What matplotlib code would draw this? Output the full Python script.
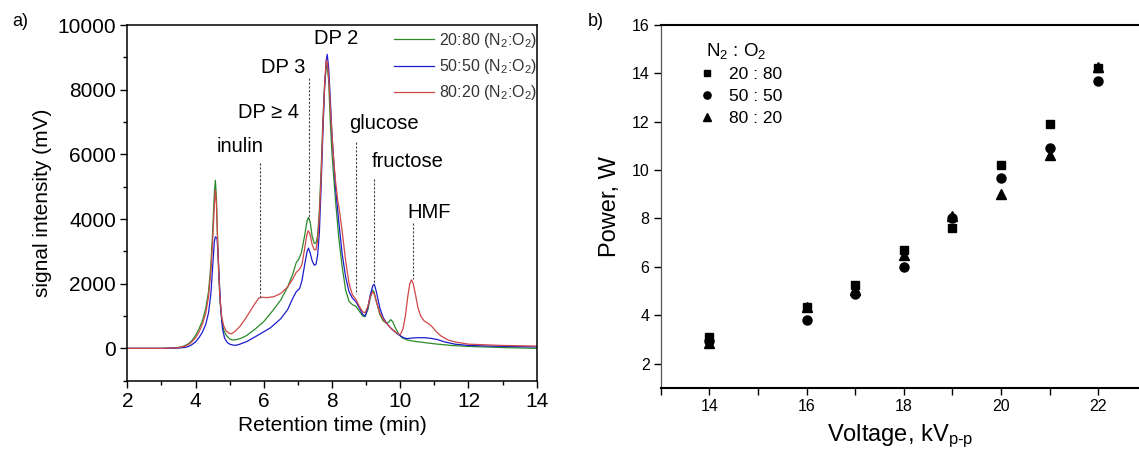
import numpy as np
import matplotlib
matplotlib.use("Agg")
import matplotlib.pyplot as plt
from matplotlib.ticker import MultipleLocator

plt.rcParams['font.family'] = ['Liberation Sans', 'DejaVu Sans']
plt.rcParams['mathtext.fontset'] = 'custom'
plt.rcParams['mathtext.rm'] = 'Liberation Sans'
plt.rcParams['mathtext.it'] = 'Liberation Sans'

# ---------------- Panel a data (chromatograms) ----------------
t_green = [2.0, 3.0, 3.4, 3.6, 3.7, 3.8, 3.9, 4.0, 4.1, 4.2, 4.3, 4.38, 4.45, 4.5, 4.55, 4.58,
           4.61, 4.64, 4.68, 4.72, 4.77, 4.83, 4.9, 5.0, 5.09, 5.2, 5.35, 5.5, 5.75, 6.0, 6.25,
           6.5, 6.7, 6.85, 6.95, 7.02, 7.1, 7.2, 7.27, 7.31, 7.36, 7.42, 7.48, 7.53, 7.58, 7.63,
           7.68, 7.73, 7.78, 7.83, 7.86, 7.9, 7.95, 8.0, 8.1, 8.2, 8.3, 8.4, 8.5, 8.6, 8.7, 8.8,
           8.9, 8.97, 9.05, 9.12, 9.19, 9.23, 9.3, 9.4, 9.5, 9.6, 9.67, 9.72, 9.78, 9.85, 9.95,
           10.05, 10.2, 10.4, 10.7, 11.0, 11.5, 12.0, 13.0, 14.0]
s_green = [0, 0, 10, 50, 90, 150, 250, 400, 600, 850, 1250, 1750, 2600, 3600, 4800, 5200,
           4700, 3600, 2300, 1400, 850, 550, 400, 290, 260, 270, 320, 400, 600, 830, 1150,
           1500, 1900, 2300, 2650, 2750, 2950, 3500, 3950, 4050, 3900, 3450, 3250, 3250, 3500, 4300,
           5500, 7000, 8100, 8700, 8750, 8300, 7000, 6000, 4600, 3400, 2500, 1800, 1450, 1350, 1300, 1150,
           1000, 980, 1200, 1550, 1800, 1750, 1450, 1050, 850, 770, 820, 890, 820, 650, 450,
           330, 260, 220, 180, 140, 90, 60, 25, 0]

t_blue = [2.0, 3.0, 3.5, 3.7, 3.8, 3.9, 4.0, 4.1, 4.2, 4.3, 4.38, 4.45, 4.5, 4.55, 4.58, 4.63,
          4.66, 4.7, 4.74, 4.79, 4.85, 4.93, 5.0, 5.1, 5.19, 5.3, 5.5, 5.7, 5.9, 6.2, 6.5, 6.7,
          6.85, 6.95, 7.05, 7.12, 7.2, 7.27, 7.31, 7.36, 7.42, 7.48, 7.53, 7.58, 7.63, 7.68, 7.73,
          7.78, 7.83, 7.86, 7.9, 7.95, 8.0, 8.1, 8.2, 8.3, 8.4, 8.5, 8.6, 8.7, 8.8, 8.9, 8.97,
          9.05, 9.12, 9.2, 9.24, 9.3, 9.4, 9.5, 9.6, 9.7, 9.8, 9.9, 10.0, 10.1, 10.2, 10.35, 10.5,
          10.7, 10.9, 11.1, 11.3, 11.6, 12.0, 13.0, 14.0]
s_blue = [0, 0, 10, 30, 60, 120, 200, 330, 500, 750, 1100, 1700, 2500, 3300, 3450, 3400,
          2900, 2000, 1200, 600, 320, 180, 130, 100, 95, 130, 210, 330, 450, 640, 920, 1200,
          1550, 1750, 1850, 2100, 2600, 3000, 3100, 2950, 2700, 2570, 2600, 2900, 3600, 5000, 6600,
          8000, 8900, 9090, 8700, 7700, 6600, 5000, 3900, 2900, 2200, 1750, 1550, 1450, 1250, 1050, 1000,
          1250, 1650, 1950, 1980, 1750, 1250, 950, 780, 650, 550, 460, 390, 330, 300, 320, 330,
          330, 310, 270, 200, 130, 90, 60, 45]

t_red = [2.0, 3.0, 3.5, 3.7, 3.8, 3.9, 4.0, 4.1, 4.2, 4.3, 4.38, 4.45, 4.5, 4.55, 4.58, 4.61,
         4.64, 4.68, 4.72, 4.77, 4.83, 4.9, 5.0, 5.05, 5.15, 5.3, 5.45, 5.6, 5.75, 5.85, 5.95,
         6.1, 6.3, 6.5, 6.7, 6.85, 6.95, 7.05, 7.12, 7.2, 7.26, 7.3, 7.35, 7.42, 7.48, 7.53, 7.58,
         7.63, 7.68, 7.73, 7.78, 7.83, 7.87, 7.92, 7.97, 8.03, 8.1, 8.17, 8.22, 8.3, 8.4, 8.5,
         8.6, 8.7, 8.8, 8.9, 8.97, 9.05, 9.12, 9.19, 9.23, 9.3, 9.4, 9.5, 9.6, 9.7, 9.8, 9.9,
         10.0, 10.08, 10.15, 10.22, 10.28, 10.33, 10.38, 10.45, 10.52, 10.6, 10.7, 10.85, 10.95,
         11.05, 11.2, 11.4, 11.6, 12.0, 13.0, 14.0]
s_red = [0, 0, 20, 70, 120, 210, 330, 500, 750, 1100, 1600, 2400, 3300, 4400, 4890, 4500,
         3500, 2300, 1500, 950, 680, 530, 460, 450, 520, 680, 900, 1150, 1400, 1550, 1580,
         1570, 1600, 1700, 1900, 2150, 2350, 2450, 2600, 3100, 3500, 3640, 3550, 3200, 3050, 3050, 3350,
         4100, 5300, 6800, 8100, 8920, 8800, 8100, 7100, 6100, 5200, 4550, 4250, 3600, 2700, 2000,
         1650, 1520, 1300, 1130, 1100, 1300, 1600, 1750, 1700, 1450, 1100, 900, 780, 650, 560, 470,
         420, 600, 1000, 1600, 2000, 2120, 2000, 1650, 1250, 1000, 850, 750, 650,
         520, 380, 260, 200, 130, 90, 70]

series_labels = ['20:80 (N$_2$:O$_2$)', '50:50 (N$_2$:O$_2$)', '80:20 (N$_2$:O$_2$)']

# annotations: label, text x, text y, line x, line y0, line y1
ann_labels = ['DP 2', 'DP 3', 'DP \u2265 4', 'inulin', 'glucose', 'fructose', 'HMF']
ann_text_x = [8.12, 6.56, 6.15, 5.30, 9.51, 10.22, 10.84]
ann_text_y = [9590, 8680, 7290, 6250, 6960, 5790, 4200]
line_x = [5.88, 7.32, 8.71, 9.24, 10.36]
line_top = [5740, 8350, 6390, 5250, 3880]
line_bot = [1590, 4010, 1690, 1950, 2130]

# ---------------- Panel b data (power vs voltage) ----------------
voltage = [14, 16, 17, 18, 19, 20, 21, 22]
power_20_80 = [3.10, 4.34, 5.24, 6.69, 7.59, 10.21, 11.89, 14.21]
power_50_50 = [2.95, 3.79, 4.87, 6.00, 8.00, 9.68, 10.92, 13.68]
power_80_20 = [2.83, 4.34, 5.03, 6.48, 8.10, 9.03, 10.62, 14.28]
ratio_labels = ['20 : 80', '50 : 50', '80 : 20']

# ---------------- Figure ----------------
fig = plt.figure(figsize=(11.39, 4.55), dpi=100)

axa = fig.add_axes([0.1118, 0.1633, 0.3594, 0.7817])
axa.plot(t_green, s_green, color='#2a8a2a', lw=0.9, label=series_labels[0])
axa.plot(t_blue, s_blue, color='#1c1ccc', lw=0.9, label=series_labels[1])
axa.plot(t_red, s_red, color='#d04848', lw=0.9, label=series_labels[2])
axa.set_xlim(2, 14)
axa.set_ylim(-1000, 10000)
axa.xaxis.set_major_locator(MultipleLocator(2))
axa.xaxis.set_minor_locator(MultipleLocator(1))
axa.yaxis.set_major_locator(MultipleLocator(2000))
axa.yaxis.set_minor_locator(MultipleLocator(1000))
axa.tick_params(which='major', direction='out', length=5, width=1, labelsize=15, pad=3)
axa.tick_params(which='minor', direction='out', length=3, width=1)
for sp in axa.spines.values():
    sp.set_linewidth(1.1)
axa.set_xlabel('Retention time (min)', fontsize=15, labelpad=4)
axa.set_ylabel('signal intensity (mV)', fontsize=15, labelpad=4)

for lab, x, y in zip(ann_labels, ann_text_x, ann_text_y):
    axa.text(x, y, lab, fontsize=14.5, ha='center', va='center')
for x, y0, y1 in zip(line_x, line_top, line_bot):
    axa.plot([x, x], [y0, y1], ls=(0, (2, 1.5)), color='#444444', lw=0.8)

axa.legend(loc='upper left', bbox_to_anchor=(0.628, 1.01), frameon=False, fontsize=11.5,
           handlelength=2.5, handletextpad=0.3, labelspacing=0.45, borderaxespad=0.2,
           labelcolor='#333333')

fig.text(0.011, 0.952, 'a)', fontsize=13, va='center')

# Panel b
axb = fig.add_axes([0.5801, 0.1479, 0.4199, 0.7971])
axb.plot(voltage, power_20_80, 's', color='black', ms=6, label=ratio_labels[0])
axb.plot(voltage, power_50_50, 'o', color='black', ms=6.5, label=ratio_labels[1])
axb.plot(voltage, power_80_20, '^', color='black', ms=7, label=ratio_labels[2])
axb.set_xlim(13, 22.84)
axb.set_ylim(1, 16)
xt = list(range(13, 23))
axb.set_xticks(xt)
axb.set_xticklabels([str(v) if v % 2 == 0 and v > 13 else '' for v in xt])
axb.set_yticks(range(2, 17, 2))
axb.tick_params(direction='out', length=5, width=1, labelsize=11.5, pad=3)
axb.spines['right'].set_visible(False)
axb.spines['left'].set_linewidth(0.9)
axb.spines['left'].set_color('#555555')
axb.spines['bottom'].set_linewidth(1.5)
axb.spines['top'].set_linewidth(1.5)
axb.set_xlabel('Voltage, kV$_\\mathregular{p\u2010p}$', fontsize=17, labelpad=6)
axb.set_ylabel('Power, W', fontsize=17, labelpad=8)

leg = axb.legend(loc='upper left', bbox_to_anchor=(0.038, 0.985), frameon=False, fontsize=12.5,
                 title='N$_2$ : O$_2$', title_fontsize=13.5, handletextpad=0.3,
                 labelspacing=0.37, borderaxespad=0.2, markerscale=0.8)

fig.text(0.516, 0.952, 'b)', fontsize=13, va='center')

fig.savefig('out.png', dpi=100)
